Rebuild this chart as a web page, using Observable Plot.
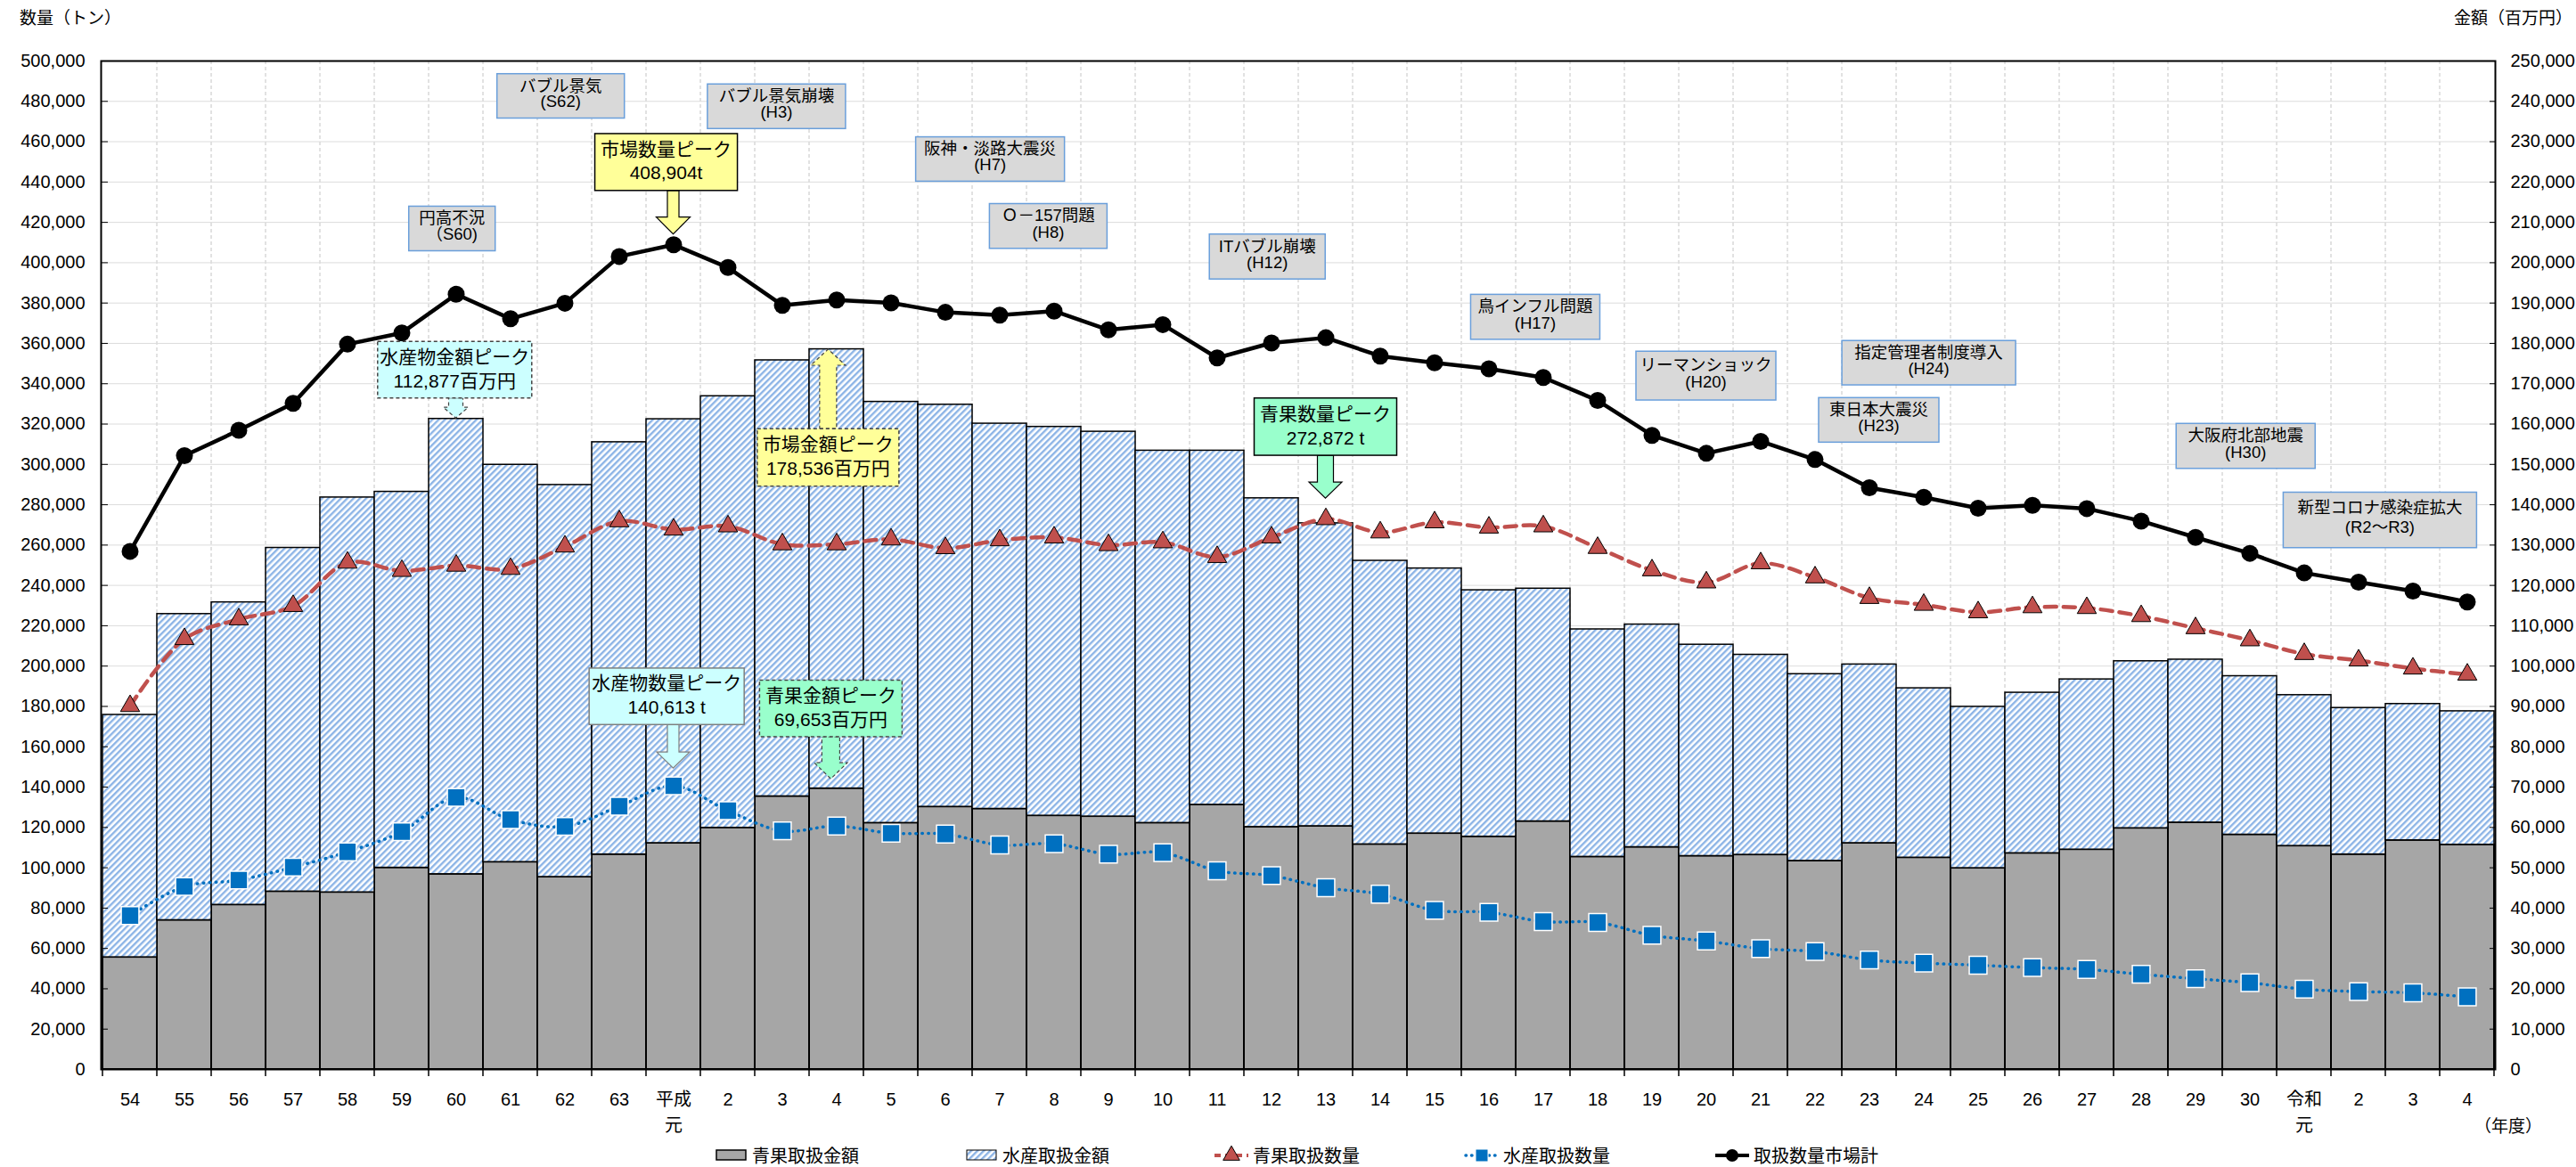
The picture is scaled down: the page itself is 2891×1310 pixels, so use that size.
<!DOCTYPE html>
<html><head><meta charset="utf-8">
<script src="https://cdn.jsdelivr.net/npm/d3@7"></script>
<script src="https://cdn.jsdelivr.net/npm/@observablehq/plot@0.6"></script>
<style>
html,body{margin:0;padding:0;background:#fff;}
body{width:2891px;height:1310px;overflow:hidden;font-family:"Liberation Sans","Noto Sans CJK JP",sans-serif;}
#legend{position:relative;height:28px;width:2891px;}
.li{position:absolute;top:0;display:flex;align-items:center;height:28px;font-size:20px;white-space:nowrap;color:#000;}
.li svg{margin-right:4px;}
</style></head><body><div id="chart"></div><div id="legend"></div>
<script>
// ---- data ----
const keys = ["S54","S55","S56","S57","S58","S59","S60","S61","S62","S63",
  "H1","H2","H3","H4","H5","H6","H7","H8","H9","H10",
  "H11","H12","H13","H14","H15","H16","H17","H18","H19","H20",
  "H21","H22","H23","H24","H25","H26","H27","H28","H29","H30",
  "R1","R2","R3","R4"];
const tickLabels = ["54","55","56","57","58","59","60","61","62","63",
  "平成\n元","2","3","4","5","6","7","8","9","10",
  "11","12","13","14","15","16","17","18","19","20",
  "21","22","23","24","25","26","27","28","29","30",
  "令和\n元","2","3","4"];
// 青果取扱金額 (百万円)
const vegAmount = [27800,37000,40800,44100,43900,50000,48400,51400,47700,53300,
  56100,59900,67700,69653,61100,65100,64600,62900,62700,61100,
  65600,60100,60300,55800,58500,57700,61500,52700,55100,52900,
  53200,51700,56100,52500,49900,53600,54500,59800,61200,58200,
  55400,53300,56800,55700];
// 水産取扱金額 (百万円)
const seaAmount = [60100,75900,75000,85200,97900,93200,112877,98500,97200,102200,
  105100,107000,108100,108883,104400,99700,95500,96400,95400,92300,
  87800,81500,75100,70300,65700,61100,57700,56400,55200,52400,
  49600,46300,44300,42000,40000,39800,42200,41400,40400,39300,
  37400,36300,33800,33100];
// 青果取扱数量 (t)
const vegQty = [180200,213400,223200,229800,251300,247200,249800,248200,259300,271800,
  267700,269300,260400,260400,262800,258500,262400,263800,260000,261400,
  254100,263800,272872,266300,271300,268700,269300,258600,247500,241500,
  251000,244000,233800,230400,226700,229200,228800,224800,218800,212800,
  206000,202800,198800,195800];
// 水産取扱数量 (t)
const seaQty = [76300,90700,93900,100300,107900,117900,134900,123900,120500,130500,
  140613,128300,118300,120700,117100,116700,111300,111900,106700,107500,
  98500,96100,90100,86900,78900,77900,73300,72900,66500,63700,
  59900,58500,54300,52700,51700,50500,49600,47200,45000,43000,
  39800,38600,38000,36000];
// 取扱数量市場計 (t)
const totalQty = [256900,304300,316900,330300,359600,365200,384400,372200,379900,403100,
  408904,397600,378900,381500,380100,375400,374000,376000,366700,369300,
  352800,360200,362800,353700,350400,347400,343100,331700,314400,305500,
  311400,302400,288400,283700,278300,279700,278100,271900,263800,255900,
  246200,241600,237200,231800];
const qtyTicks = d3.range(0, 500001, 20000);

// annotations (position in band units / tonnes on the left axis)
const events = [
  {lines:["円高不況","（S60)"], at:5.93, top:427800, bottom:405700, w:97},
  {lines:["バブル景気","(S62)"], at:7.93, top:493500, bottom:471500, w:143},
  {lines:["バブル景気崩壊","(H3)"], at:11.9, top:488400, bottom:466300, w:155},
  {lines:["阪神・淡路大震災","(H7)"], at:15.83, top:462200, bottom:440200, w:167},
  {lines:["Ｏ－157問題","(H8)"], at:16.9, top:429100, bottom:406900, w:132},
  {lines:["ITバブル崩壊","(H12)"], at:20.93, top:414000, bottom:391700, w:130},
  {lines:["鳥インフル問題","(H17)"], at:25.86, top:384100, bottom:361800, w:145},
  {lines:["リーマンショック","(H20)"], at:29.0, top:355900, bottom:331700, w:157},
  {lines:["指定管理者制度導入","(H24)"], at:33.1, top:361200, bottom:339200, w:195},
  {lines:["東日本大震災","(H23)"], at:32.18, top:332900, bottom:310800, w:135},
  {lines:["大阪府北部地震","(H30)"], at:38.93, top:320100, bottom:297800, w:156},
  {lines:["新型コロナ感染症拡大","(R2～R3)"], at:41.4, top:286000, bottom:258500, w:217}
];
const peaks = [
  {lines:["市場数量ピーク","408,904t"], at:9.87, top:463800, bottom:435600, w:160, fill:"#ffff99", stroke:"#000", dash:null, arrowAt:10, tip:414000, sw:13, hw:38, hl:19},
  {lines:["水産物金額ピーク","112,877百万円"], at:5.98, top:360800, bottom:332700, w:173, fill:"#ccffff", stroke:"#444", dash:"4,3", arrowAt:6, tip:322800, sw:16, hw:28, hl:12},
  {lines:["市場金額ピーク","178,536百万円"], at:12.85, top:317500, bottom:289000, w:159, fill:"#ffff99", stroke:"#444", dash:"4,3", arrowAt:12.85, tip:356900, sw:19, hw:39, hl:18},
  {lines:["水産物数量ピーク","140,613 t"], at:9.88, top:198800, bottom:170800, w:174, fill:"#ccffff", stroke:"#7f7f7f", dash:null, arrowAt:10, tip:149200, sw:13, hw:37, hl:18},
  {lines:["青果金額ピーク","69,653百万円"], at:12.9, top:192800, bottom:164800, w:160, fill:"#99ffcc", stroke:"#444", dash:"4,3", arrowAt:12.9, tip:143900, sw:20, hw:37, hl:18},
  {lines:["青果数量ピーク","272,872 t"], at:22, top:332700, bottom:304300, w:160, fill:"#99ffcc", stroke:"#000", dash:null, arrowAt:22, tip:283100, sw:18, hw:37, hl:18}
];

const FONT = '"Liberation Sans","Noto Sans CJK JP",sans-serif';
const AMT = 2; // 500,000 t on the left axis ↔ 250,000 百万円 on the right axis
const rows = keys.map((k, i) => ({key:k, veg:vegAmount[i], sea:seaAmount[i], vegQ:vegQty[i], seaQ:seaQty[i], total:totalQty[i]}));

const plot = Plot.plot({
  width: 2891, height: 1282,
  marginLeft: 113, marginRight: 91, marginTop: 68, marginBottom: 82,
  x: {type:"band", domain: keys, padding: 0, label: null},
  y: {domain:[0, 500000], label: null},
  style: {fontFamily: FONT, fontSize: "20px", background: "#fff", color: "#000", overflow: "visible"},
  marks: [
    Plot.ruleY(qtyTicks, {stroke:"#dcdcdc", strokeWidth:1}),
    Plot.barY(rows, {x:"key", y1:0, y2:d => d.veg*AMT, fill:"#a6a6a6", stroke:"#000", strokeWidth:2}),
    Plot.barY(rows, {x:"key", y1:d => d.veg*AMT, y2:d => (d.veg+d.sea)*AMT, fill:"url(#hatch)", stroke:"#000", strokeWidth:1.5}),
    Plot.line(rows, {x:"key", y:"total", stroke:"#000", strokeWidth:4.5}),
    Plot.line(rows, {x:"key", y:"vegQ", stroke:"#c0504d", strokeWidth:4.5, strokeDasharray:"13,8", curve:"catmull-rom"}),
    Plot.line(rows, {x:"key", y:"seaQ", stroke:"#0070c0", strokeWidth:3.5, strokeDasharray:"0.5,6.5", strokeLinecap:"round", curve:"catmull-rom"}),
    Plot.dot(rows, {x:"key", y:"total", r:9.5, fill:"#000"}),
    Plot.dot(rows, {x:"key", y:"vegQ", symbol:"triangle", r:8, fill:"#c0504d", stroke:"#000", strokeWidth:1}),
    Plot.dot(rows, {x:"key", y:"seaQ", symbol:"square", r:11.2, fill:"#0070c0", stroke:"#fff", strokeWidth:1.5}),
    Plot.frame({stroke:"#000", strokeWidth:2}),
    Plot.axisY({anchor:"left", ticks: qtyTicks, tickFormat: d3.format(","), tickSize: -8, tickPadding: 26, label: null, fontSize: 20}),
    Plot.axisY({anchor:"right", ticks: qtyTicks, tickFormat: d => d3.format(",")(d/AMT), tickSize: -7, tickPadding: 24, label: null, fontSize: 20}),
    Plot.axisX({anchor:"bottom", tickSize: 0, tickPadding: 20, tickFormat: k => tickLabels[keys.indexOf(k)], lineHeight: 1.45, label: null, fontSize: 20})
  ]
});
document.getElementById("chart").appendChild(plot);

const svg = d3.select(plot);
const defs = svg.insert("defs", ":first-child");
const pat = defs.append("pattern").attr("id","hatch").attr("patternUnits","userSpaceOnUse")
  .attr("width",5).attr("height",5).attr("patternTransform","rotate(45)");
pat.append("rect").attr("width",5).attr("height",5).attr("fill","#fff");
pat.append("rect").attr("width",2.4).attr("height",5).attr("fill","#8cb4e6");

const xs = plot.scale("x"), ys = plot.scale("y");
const bw = xs.bandwidth, xStart = xs.apply(keys[0]);
const px = f => xStart + (f + 0.5) * bw;
const py = v => ys.apply(v);
const yTop = py(500000), yZero = py(0);

// vertical dashed gridlines at band boundaries + outward x ticks
const grid = svg.insert("g", "g[aria-label]");
keys.forEach((k, i) => {
  const x = xs.apply(k);
  if (i > 0) grid.append("line").attr("x1",x).attr("x2",x).attr("y1",yTop).attr("y2",yZero)
    .attr("stroke","#c4c4c4").attr("stroke-dasharray","4,3").attr("stroke-width",1);
});
const xt = svg.append("g").attr("stroke","#000").attr("stroke-width",1.5);
keys.concat([null]).forEach((k, i) => {
  const x = k === null ? xs.apply(keys[keys.length-1]) + bw : xs.apply(k);
  xt.append("line").attr("x1",x).attr("x2",x).attr("y1",yZero).attr("y2",yZero+8);
});

// axis titles
const tg = svg.append("g").attr("font-family", FONT).attr("fill","#000");
tg.append("text").attr("x",22).attr("y",22).attr("text-anchor","start").attr("dominant-baseline","middle").attr("font-size",19).text("数量（トン）");
tg.append("text").attr("x",2887).attr("y",22).attr("text-anchor","end").attr("dominant-baseline","middle").attr("font-size",19).text("金額（百万円）");
tg.append("text").attr("x",2815).attr("y",1266).attr("text-anchor","middle").attr("dominant-baseline","middle").attr("font-size",19).text("（年度）");

// annotations
const ag = svg.append("g").attr("font-family", FONT);
for (const e of events) {
  const cx = px(e.at), y1 = py(e.top), y2 = py(e.bottom), h = y2 - y1;
  ag.append("rect").attr("x", cx - e.w/2).attr("y", y1).attr("width", e.w).attr("height", h)
    .attr("fill","#d9d9d9").attr("stroke","#6a9fdb").attr("stroke-width",1.5);
  e.lines.forEach((t, j) => ag.append("text").attr("x", cx).attr("y", y1 + h*(j ? 0.66 : 0.3))
    .attr("text-anchor","middle").attr("dominant-baseline","middle").attr("font-size",18.5).attr("fill","#000").text(t));
}
for (const p of peaks) {
  const cx = px(p.at), y1 = py(p.top), y2 = py(p.bottom), h = y2 - y1;
  const ax = px(p.arrowAt), tip = py(p.tip);
  const down = tip > y2;
  const base = down ? y2 : y1;
  const dir = down ? 1 : -1;
  const neck = tip - dir*p.hl;
  const pts = [[ax-p.sw/2, base],[ax+p.sw/2, base],[ax+p.sw/2, neck],[ax+p.hw/2, neck],[ax, tip],[ax-p.hw/2, neck],[ax-p.sw/2, neck]];
  ag.append("polygon").attr("points", pts.map(q => q.join(",")).join(" "))
    .attr("fill", p.fill).attr("stroke", p.stroke).attr("stroke-width",1.2).attr("stroke-dasharray", p.dash);
  ag.append("rect").attr("x", cx - p.w/2).attr("y", y1).attr("width", p.w).attr("height", h)
    .attr("fill", p.fill).attr("stroke", p.stroke).attr("stroke-width",1.5).attr("stroke-dasharray", p.dash);
  p.lines.forEach((t, j) => ag.append("text").attr("x", cx).attr("y", y1 + h*(j ? 0.72 : 0.3))
    .attr("text-anchor","middle").attr("dominant-baseline","middle").attr("font-size",21).attr("fill","#000").text(t));
}

// legend
const legend = d3.select("#legend");
const items = [
  {label:"青果取扱金額", kind:"grey"},
  {label:"水産取扱金額", kind:"hatch"},
  {label:"青果取扱数量", kind:"veg"},
  {label:"水産取扱数量", kind:"sea"},
  {label:"取扱数量市場計", kind:"total"}
];
items.forEach((it, i) => {
  const d = legend.append("div").attr("class","li").style("left", (800 + i*281) + "px");
  const s = d.append("svg").attr("width",40).attr("height",22);
  if (it.kind === "grey") {
    s.append("rect").attr("x",4).attr("y",6).attr("width",33).attr("height",11).attr("fill","#a6a6a6").attr("stroke","#000").attr("stroke-width",1.5);
  } else if (it.kind === "hatch") {
    const p2 = s.append("defs").append("pattern").attr("id","hatchL").attr("patternUnits","userSpaceOnUse")
      .attr("width",5).attr("height",5).attr("patternTransform","rotate(45)");
    p2.append("rect").attr("width",5).attr("height",5).attr("fill","#fff");
    p2.append("rect").attr("width",2.4).attr("height",5).attr("fill","#8cb4e6");
    s.append("rect").attr("x",4).attr("y",6).attr("width",33).attr("height",11).attr("fill","url(#hatchL)").attr("stroke","#000").attr("stroke-width",1);
  } else if (it.kind === "veg") {
    s.append("line").attr("x1",1).attr("x2",39).attr("y1",12).attr("y2",12).attr("stroke","#c0504d").attr("stroke-width",4).attr("stroke-dasharray","7,5");
    s.append("path").attr("d", d3.symbol(d3.symbolTriangle, 150)()).attr("transform","translate(20,12)").attr("fill","#c0504d").attr("stroke","#000");
  } else if (it.kind === "sea") {
    s.append("line").attr("x1",2).attr("x2",39).attr("y1",12).attr("y2",12).attr("stroke","#0070c0").attr("stroke-width",3.5).attr("stroke-dasharray","0.5,6").attr("stroke-linecap","round");
    s.append("rect").attr("x",13).attr("y",5).attr("width",14).attr("height",14).attr("fill","#0070c0").attr("stroke","#fff");
  } else {
    s.append("line").attr("x1",1).attr("x2",39).attr("y1",12).attr("y2",12).attr("stroke","#000").attr("stroke-width",4);
    s.append("circle").attr("cx",20).attr("cy",12).attr("r",7).attr("fill","#000");
  }
  d.append("span").text(it.label);
});
</script></body></html>
